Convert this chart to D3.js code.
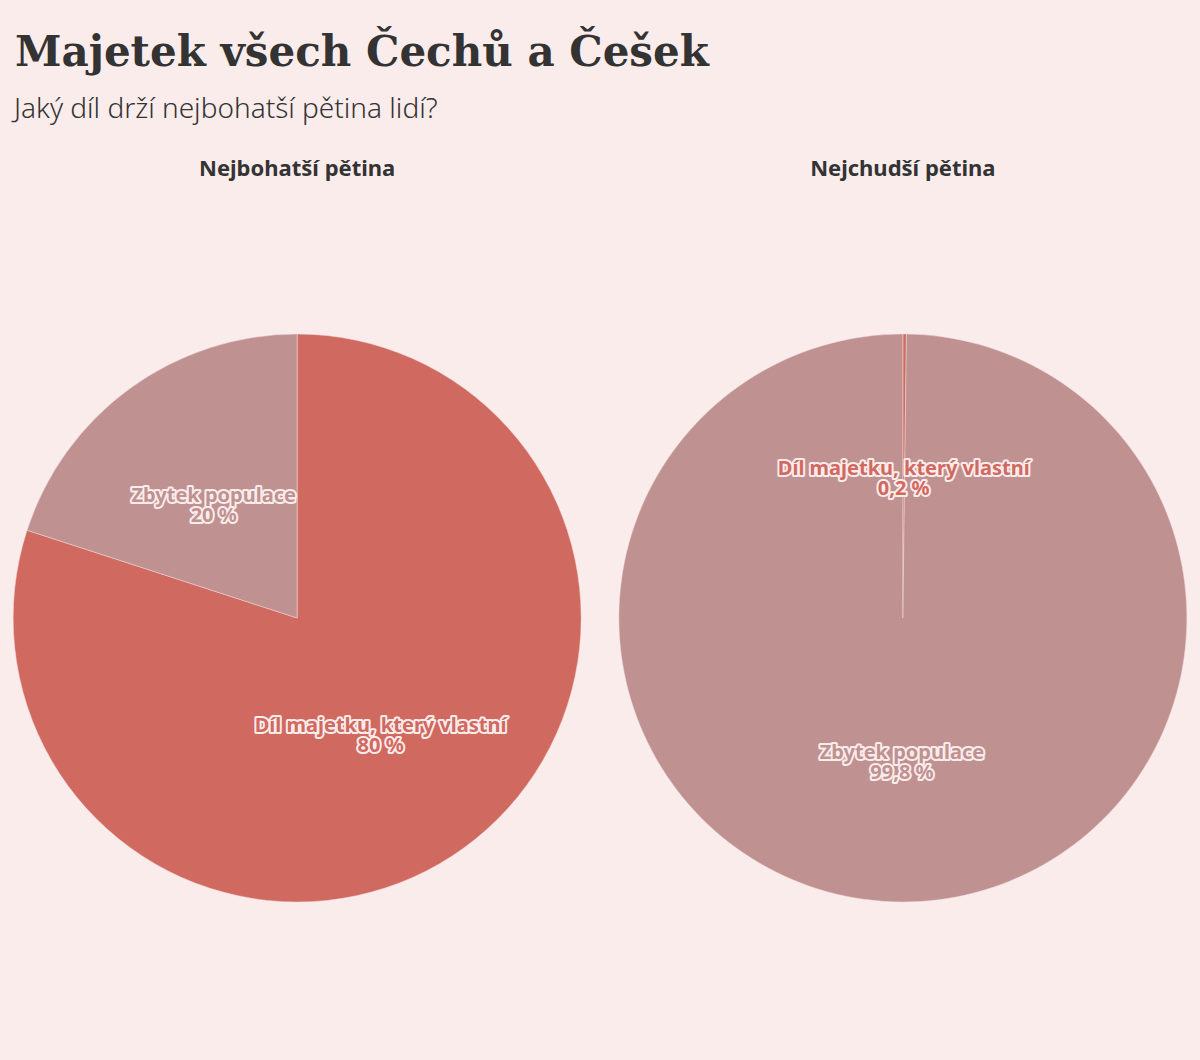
<!DOCTYPE html>
<html>
<head>
<meta charset="utf-8">
<script src="https://cdn.jsdelivr.net/npm/d3@7"></script>
<style>
  body { margin: 0; background: #fbecec; }
  svg { display: block; }
</style>
</head>
<body>
<script>
var w = 1200;
var h = 1060;

// Data
var panels = ["Nejbohatší pětina", "Nejchudší pětina"];
var categories = ["Díl majetku, který vlastní", "Zbytek populace"];
var share = [80, 0.2];          // díl majetku, který vlastní (%)
var rest = [20, 99.8];          // zbytek populace (%)
var colors = ["#d0695f", "#bf9291"];

var svg = d3.select("body")
            .append("svg")
            .attr("width", w)
            .attr("height", h);

// titles
svg.append("text")
    .attr("x", 15)
    .attr("y", 66)
    .attr("font-family", "'DejaVu Serif', serif")
    .attr("font-weight", "bold")
    .attr("font-size", "42px")
    .attr("fill", "#333")
    .text("Majetek všech Čechů a Češek");

svg.append("text")
    .attr("x", 14)
    .attr("y", 118)
    .attr("font-family", "'Noto Sans', sans-serif")
    .attr("font-weight", 300)
    .attr("font-size", "28px")
    .attr("fill", "#333")
    .text("Jaký díl drží nejbohatší pětina lidí?");

var r = 284;
var xScale = d3.scaleBand()
               .domain(panels)
               .range([14, 1186])
               .paddingInner(0.065);

var pie = d3.pie().sort(null).value(function(d) { return d.value; });
var arc = d3.arc().innerRadius(0).outerRadius(r);
var labelArc = d3.arc().innerRadius(r / 2).outerRadius(r / 2);
var fmt = function(v) { return String(v).replace(".", ",") + " %"; };

panels.forEach(function(p, i) {
    var cx = xScale(p) + xScale.bandwidth() / 2;
    var cy = 618;

    svg.append("text")
        .attr("x", cx)
        .attr("y", 176)
        .attr("text-anchor", "middle")
        .attr("font-family", "'Noto Sans', sans-serif")
        .attr("font-weight", "bold")
        .attr("font-size", "22px")
        .attr("fill", "#333")
        .text(p);

    var data = [
        {name: categories[0], value: share[i], color: colors[0]},
        {name: categories[1], value: rest[i], color: colors[1]}
    ];

    var g = svg.append("g")
               .attr("transform", "translate(" + cx + "," + cy + ")");

    g.selectAll("path")
        .data(pie(data))
        .enter()
        .append("path")
        .attr("d", arc)
        .attr("fill", function(d) { return d.data.color; })
        .attr("stroke", "#f3dada")
        .attr("stroke-width", 0.5);

    var labels = g.selectAll("text.lbl")
        .data(pie(data))
        .enter()
        .append("text")
        .attr("class", "lbl")
        .attr("transform", function(d) { return "translate(" + labelArc.centroid(d) + ")"; })
        .attr("text-anchor", "middle")
        .attr("font-family", "'Noto Sans', sans-serif")
        .attr("font-weight", "bold")
        .attr("font-size", "20px")
        .attr("fill", function(d) { return d.data.color; })
        .attr("stroke", "#fbecec")
        .attr("stroke-width", 4)
        .attr("stroke-linejoin", "round")
        .attr("paint-order", "stroke");

    labels.append("tspan")
        .attr("x", 0)
        .attr("y", -1)
        .text(function(d) { return d.data.name; });
    labels.append("tspan")
        .attr("x", 0)
        .attr("y", 19)
        .text(function(d) { return fmt(d.data.value); });
});
</script>
</body>
</html>
